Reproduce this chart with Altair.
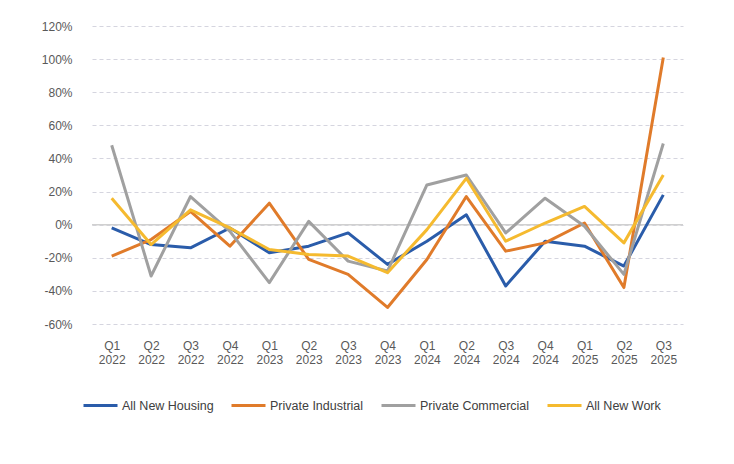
import altair as alt
import pandas as pd

quarters = ["Q1 2022", "Q2 2022", "Q3 2022", "Q4 2022",
            "Q1 2023", "Q2 2023", "Q3 2023", "Q4 2023",
            "Q1 2024", "Q2 2024", "Q3 2024", "Q4 2024",
            "Q1 2025", "Q2 2025", "Q3 2025"]
series = ["All New Housing", "Private Industrial", "Private Commercial", "All New Work"]
housing = [-2, -12, -14, -2, -17, -13, -5, -24, -10, 6, -37, -10, -13, -25, 18]
industrial = [-19, -9, 8, -13, 13, -21, -30, -50, -21, 17, -16, -11, 1, -38, 101]
commercial = [48, -31, 17, -4, -35, 2, -22, -28, 24, 30, -5, 16, -1, -30, 49]
new_work = [16, -12, 9, -2, -15, -18, -19, -29, -3, 28, -10, 1, 11, -11, 30]
colors = ["#2A5CAA", "#E07B2A", "#A0A0A0", "#F5BA2F"]

rows = []
for name, vals in zip(series, [housing, industrial, commercial, new_work]):
    for q, v in zip(quarters, vals):
        rows.append({"quarter": q, "series": name, "value": v})
df = pd.DataFrame(rows)

FONT = "Liberation Sans"

y_scale = alt.Scale(domain=[-60, 120], nice=False, zero=False)
y_axis = alt.Axis(title=None, values=list(range(-60, 121, 20)),
                  labelExpr="datum.value + '%'", ticks=False, domain=False,
                  gridDash=[4, 3], gridColor="#d5d5df", gridWidth=1,
                  labelOverlap=False, labelFlush=False,
                  labelPadding=20, minExtent=80, maxExtent=80,
                  labelFontSize=12, labelColor="#595959", labelFont=FONT)

lines = alt.Chart(df).mark_line(strokeWidth=3, strokeJoin="round").encode(
    x=alt.X("quarter:N", sort=quarters,
            scale=alt.Scale(type="point", padding=0.5),
            axis=alt.Axis(title=None, labelExpr="split(datum.label, ' ')",
                          ticks=False, domain=False, grid=False, labelAngle=0,
                          labelPadding=16, labelLineHeight=14, labelFontSize=12,
                          labelColor="#595959", labelFont=FONT)),
    y=alt.Y("value:Q", scale=y_scale, axis=y_axis),
    color=alt.Color("series:N", sort=series,
                    scale=alt.Scale(domain=series, range=colors),
                    legend=alt.Legend(title=None, orient="none", legendX=-10, legendY=361,
                                      direction="horizontal", symbolType="stroke",
                                      symbolSize=1156, symbolStrokeWidth=3,
                                      labelOffset=3, columnPadding=11,
                                      labelFontSize=12.5, labelColor="#404040",
                                      labelFont=FONT, labelLimit=0)),
)

zero = alt.Chart(pd.DataFrame({"value": [0]})).mark_rule(color="#d0d0d0", strokeWidth=1.5).encode(
    y=alt.Y("value:Q", scale=y_scale, axis=y_axis)
)

chart = alt.layer(zero, lines).properties(
    width=591, height=298,
    padding={"left": 4, "top": 12, "right": 5, "bottom": 5},
).configure(font=FONT, view=alt.ViewConfig(stroke=None))

chart.save("out.html", embed_options={"renderer": "svg", "actions": False})
